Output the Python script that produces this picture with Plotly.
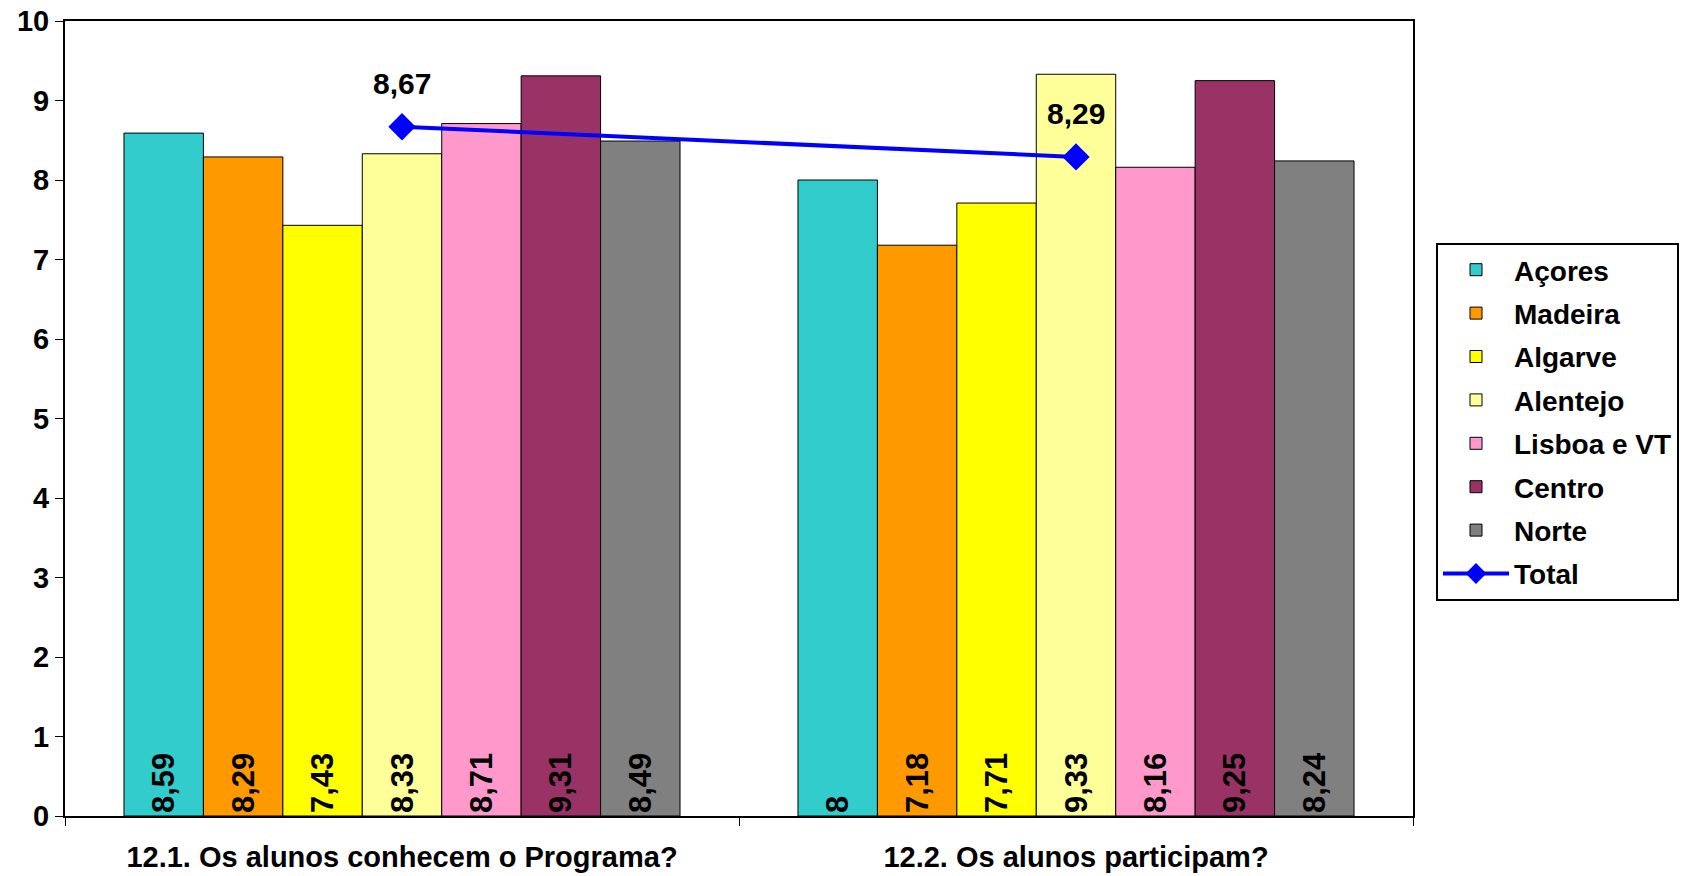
import plotly.graph_objects as go

categories = ["12.1. Os alunos conhecem o Programa?", "12.2. Os alunos participam?"]
regions = ["Açores", "Madeira", "Algarve", "Alentejo", "Lisboa e VT", "Centro", "Norte"]
acores = [8.59, 8]
madeira = [8.29, 7.18]
algarve = [7.43, 7.71]
alentejo = [8.33, 9.33]
lisboa = [8.71, 8.16]
centro = [9.31, 9.25]
norte = [8.49, 8.24]
total = [8.67, 8.29]
y_ticks = list(range(0, 11))

series = [acores, madeira, algarve, alentejo, lisboa, centro, norte]
colors = ["#33CCCC", "#FF9900", "#FFFF00", "#FFFF99", "#FF99CC", "#993366", "#808080"]

FONT = "Liberation Sans, Arial, sans-serif"

def fmt(v):
    s = ("%g" % v)
    return s.replace(".", ",")

fig = go.Figure()
for name, vals, col in zip(regions, series, colors):
    fig.add_trace(go.Bar(
        x=categories, y=vals, name=name,
        marker=dict(color=col, line=dict(color="black", width=1)),
        text=[fmt(v) for v in vals],
        textposition="inside", insidetextanchor="start", textangle=-90,
        textfont=dict(family=FONT, size=31, color="black", weight="bold"),
        legendgroup=name,
        cliponaxis=False,
    ))

fig.add_trace(go.Scatter(
    x=categories, y=total, name="Total",
    mode="lines+markers",
    line=dict(color="#0000FF", width=4),
    marker=dict(symbol="diamond", size=21, color="#0000FF"),
    legendgroup="Total",
    cliponaxis=False,
))

for c, v in zip(categories, total):
    fig.add_annotation(x=c, y=v, text=fmt(v), showarrow=False, yshift=43,
                       font=dict(family=FONT, size=30, color="black", weight="bold"))

fig.update_layout(
    width=1686, height=876,
    margin=dict(l=65, r=273, t=21, b=60, autoexpand=False),
    paper_bgcolor="white", plot_bgcolor="white",
    barmode="group", bargap=0.175, bargroupgap=0,
    font=dict(family=FONT, color="black"),
    uniformtext=dict(mode=False),
    legend=dict(
        x=(1436 - 65) / 1348, y=(816 - 243) / 795, xanchor="left", yanchor="top",
        bordercolor="black", borderwidth=2, bgcolor="white",
        font=dict(family=FONT, size=28, color="black", weight="bold"),
        tracegroupgap=4, itemwidth=66,
    ),
    showlegend=True,
)
fig.update_xaxes(
    automargin=False,
    showline=True, linecolor="black", linewidth=2, mirror=True,
    ticks="outside", tickson="boundaries", ticklen=8, tickcolor="black",
    tickfont=dict(family=FONT, size=29, color="black", weight="bold"),
    ticklabelstandoff=14, showgrid=False,
)
fig.update_yaxes(
    automargin=False,
    range=[0, 10], tickvals=y_ticks, showline=True, linecolor="black", linewidth=2, mirror=True,
    ticks="outside", ticklen=8, tickcolor="black",
    tickfont=dict(family=FONT, size=29, color="black", weight="bold"),
    showgrid=False, zeroline=False,
)

fig.write_html("out.html", config={"displayModeBar": False},
               post_script="document.body.style.margin='0';")
